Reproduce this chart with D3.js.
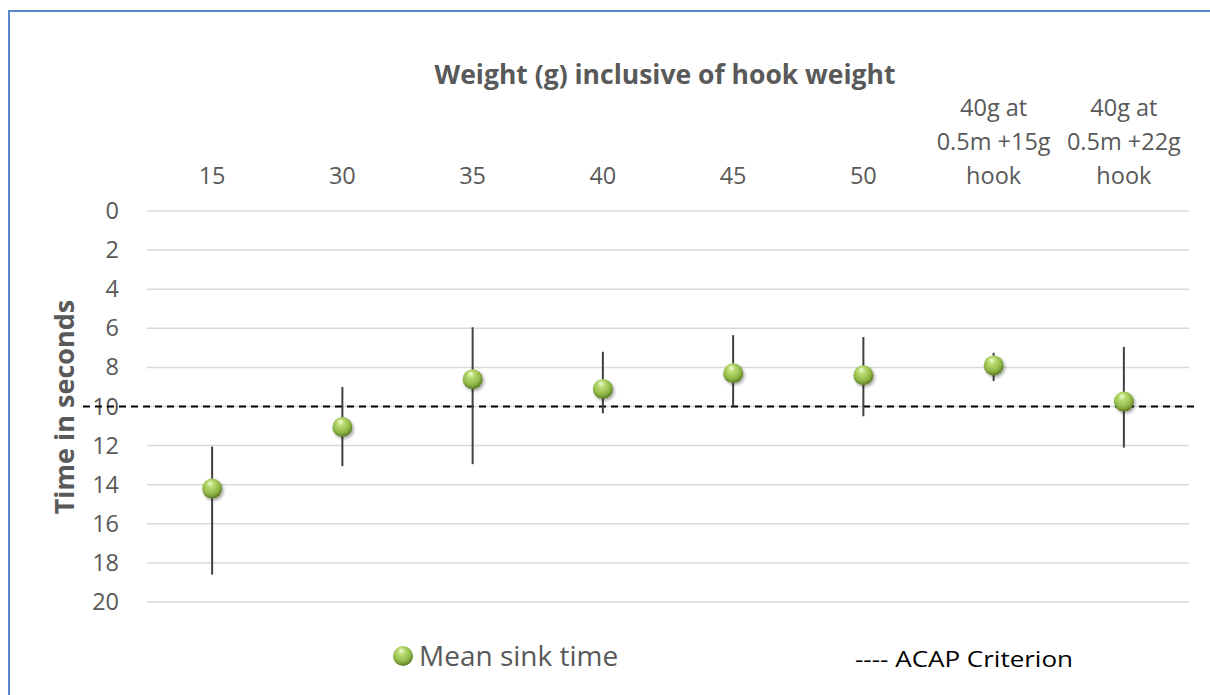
<!DOCTYPE html>
<html>
<head>
<meta charset="utf-8">
<script src="https://cdn.jsdelivr.net/npm/d3@7"></script>
<style>
  body { margin: 0; background: #fff; }
  svg { display: block; font-family: 'Open Sans', 'Noto Sans', sans-serif; }
</style>
</head>
<body>
<div id="chart"></div>
<script>
// categories (multi-line labels)
var categories = ['15', '30', '35', '40', '45', '50', '40g at 0.5m +15g hook', '40g at 0.5m +22g hook'];
var categoryLines = [['15'], ['30'], ['35'], ['40'], ['45'], ['50'], ['40g at', '0.5m +15g', 'hook'], ['40g at', '0.5m +22g', 'hook']];
// mean sink time (s) and error bar ends
var meanSink = [14.2, 11.05, 8.6, 9.1, 8.3, 8.4, 7.9, 9.75];
var errTop = [12.05, 9.0, 5.95, 7.2, 6.35, 6.45, 7.25, 6.95];
var errBottom = [18.6, 13.05, 12.95, 10.35, 10.0, 10.5, 8.7, 12.1];
var acapCriterion = 10;
var yTicks = [0, 2, 4, 6, 8, 10, 12, 14, 16, 18, 20];

var width = 1210, height = 695;
var margin = { top: 211, right: 21, bottom: 93, left: 147 };

var svg = d3.select('#chart').append('svg')
  .attr('width', width)
  .attr('height', height);

var defs = svg.append('defs');
var grad = defs.append('radialGradient')
  .attr('id', 'ball')
  .attr('cx', '45%').attr('cy', '40%').attr('r', '60%')
  .attr('fx', '40%').attr('fy', '22%');
grad.append('stop').attr('offset', '0%').attr('stop-color', '#f2fbdc');
grad.append('stop').attr('offset', '28%').attr('stop-color', '#bcdc74');
grad.append('stop').attr('offset', '72%').attr('stop-color', '#8fb846');
grad.append('stop').attr('offset', '100%').attr('stop-color', '#5a7824');
var shadow = defs.append('filter').attr('id', 'shadow')
  .attr('x', '-50%').attr('y', '-50%').attr('width', '200%').attr('height', '200%');
shadow.append('feDropShadow')
  .attr('dx', 1.5).attr('dy', 2).attr('stdDeviation', 1.5)
  .attr('flood-color', '#000').attr('flood-opacity', 0.35);

// outer frame (left and top edges visible)
svg.append('path')
  .attr('d', 'M9,' + height + 'V11H' + width)
  .attr('fill', 'none')
  .attr('stroke', '#5b87c9')
  .attr('stroke-width', 2);

var x = d3.scaleBand()
  .domain(categories)
  .range([margin.left, width - margin.right]);

var y = d3.scaleLinear()
  .domain([0, 20])
  .range([margin.top, height - margin.bottom]);

// gridlines
svg.append('g')
  .selectAll('line')
  .data(yTicks)
  .enter()
  .append('line')
  .attr('x1', margin.left)
  .attr('x2', width - margin.right)
  .attr('y1', function (d) { return y(d); })
  .attr('y2', function (d) { return y(d); })
  .attr('stroke', '#d9d9d9')
  .attr('stroke-width', 1.5);

// y axis labels
var yAxis = svg.append('g')
  .attr('transform', 'translate(' + margin.left + ',0)')
  .call(d3.axisLeft(y).tickValues(yTicks).tickSize(0).tickPadding(28));
yAxis.select('.domain').remove();
yAxis.selectAll('text')
  .attr('fill', '#595959')
  .style('font-size', '23.5px')
  .style('font-family', "'Open Sans', sans-serif");

// y axis title
svg.append('text')
  .attr('transform', 'translate(74,407) rotate(-90)')
  .attr('text-anchor', 'middle')
  .attr('fill', '#595959')
  .style('font-size', '27px')
  .style('font-weight', 'bold')
  .text('Time in seconds');

// chart title
svg.append('text')
  .attr('x', 665)
  .attr('y', 84)
  .attr('text-anchor', 'middle')
  .attr('fill', '#595959')
  .style('font-size', '26.5px')
  .style('font-weight', 'bold')
  .text('Weight (g) inclusive of hook weight');

// category labels on top
var lineGap = 34;
svg.append('g')
  .selectAll('text')
  .data(categories)
  .enter()
  .append('text')
  .attr('text-anchor', 'middle')
  .attr('fill', '#595959')
  .style('font-size', '23.5px')
  .each(function (d, i) {
    var lines = categoryLines[i];
    var t = d3.select(this);
    lines.forEach(function (ln, j) {
      t.append('tspan')
        .attr('x', x(d) + x.bandwidth() / 2)
        .attr('y', 184 - (lines.length - 1 - j) * lineGap)
        .text(ln);
    });
  });

// ACAP criterion line
svg.append('line')
  .attr('x1', 83)
  .attr('x2', 1197)
  .attr('y1', y(acapCriterion))
  .attr('y2', y(acapCriterion))
  .attr('stroke', '#000')
  .attr('stroke-width', 2)
  .attr('stroke-dasharray', '7,5');

// error bars
svg.append('g')
  .selectAll('line')
  .data(categories)
  .enter()
  .append('line')
  .attr('x1', function (d) { return x(d) + x.bandwidth() / 2; })
  .attr('x2', function (d) { return x(d) + x.bandwidth() / 2; })
  .attr('y1', function (d, i) { return y(errTop[i]); })
  .attr('y2', function (d, i) { return y(errBottom[i]); })
  .attr('stroke', '#404040')
  .attr('stroke-width', 2);

// mean markers
svg.append('g')
  .selectAll('circle')
  .data(categories)
  .enter()
  .append('circle')
  .attr('cx', function (d) { return x(d) + x.bandwidth() / 2; })
  .attr('cy', function (d, i) { return y(meanSink[i]); })
  .attr('r', 10)
  .attr('fill', 'url(#ball)')
  .attr('filter', 'url(#shadow)');

// legend
var legend = svg.append('g');
legend.append('circle')
  .attr('cx', 403).attr('cy', 656).attr('r', 10)
  .attr('fill', 'url(#ball)');
legend.append('text')
  .attr('x', 419).attr('y', 666)
  .attr('fill', '#595959')
  .style('font-size', '28px')
  .text('Mean sink time');
legend.append('text')
  .attr('x', 855).attr('y', 667)
  .attr('fill', '#000')
  .style('font-size', '22px')
  .attr('textLength', 218)
  .attr('lengthAdjust', 'spacingAndGlyphs')
  .text('---- ACAP Criterion');
</script>
</body>
</html>
